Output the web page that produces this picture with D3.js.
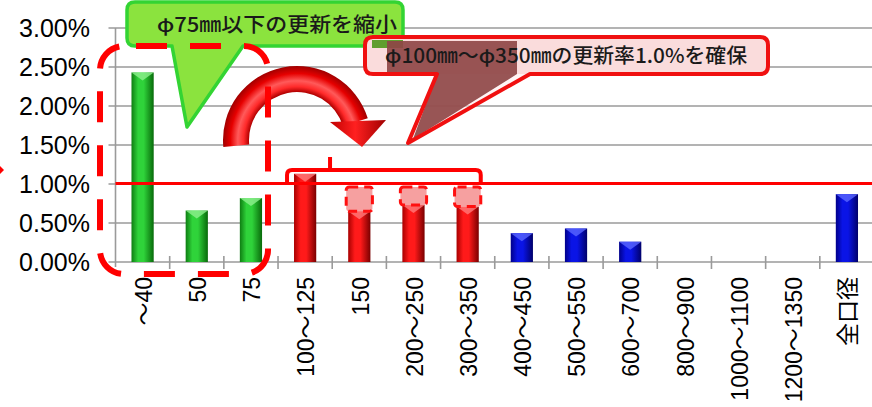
<!DOCTYPE html>
<html>
<head>
<meta charset="utf-8">
<script src="https://cdn.jsdelivr.net/npm/d3@7"></script>
<style>
  html, body { margin: 0; padding: 0; background: #fff; }
  svg { display: block; }
</style>
</head>
<body>
<svg id="chart" width="872" height="407"></svg>
<script>
// Renewal rate by pipe diameter (mm)
const categories = ["～40", "50", "75", "100～125", "150", "200～250", "300～350",
  "400～450", "500～550", "600～700", "800～900", "1000～1100", "1200～1350", "全口径"];
const renewalRates = [0.0243, 0.0066, 0.0082, 0.0113, 0.0065, 0.0073, 0.0071,
  0.0037, 0.0043, 0.0026, 0, 0, 0, 0.0087];
const sizeGroups = ["small", "small", "small", "mid", "mid", "mid", "mid",
  "large", "large", "large", "large", "large", "large", "large"];
const yTickValues = [0, 0.005, 0.01, 0.015, 0.02, 0.025, 0.03];
const targetRate = 0.01;
const raiseTo = ["150", "200～250", "300～350"];
const noteSmall = "φ75㎜以下の更新を縮小";
const noteMid = "φ100㎜～φ350㎜の更新率1.0%を確保";

const svg = d3.select("#chart");
const plotLeft = 115.5, plotRight = 874, plotTop = 28, plotBottom = 262;

const x = d3.scaleBand().domain(categories).range([plotLeft, plotRight]);
const y = d3.scaleLinear().domain([0, 0.03]).range([plotBottom, plotTop]);
const fmt = d3.format(".2%");
const barW = x.bandwidth() * 0.41;
const barX = c => x(c) + (x.bandwidth() - barW) / 2;

const palette = {
  small: { dark: "#0e7d12", mid: "#2fd33a", light: "#8ef08e", edge: "#086a0a" },
  mid:   { dark: "#a80000", mid: "#ff1a1a", light: "#ff7a7a", edge: "#7a0000" },
  large: { dark: "#00008a", mid: "#0a14e6", light: "#5a66ff", edge: "#00006a" }
};

const defs = svg.append("defs");
Object.entries(palette).forEach(([k, c]) => {
  const g = defs.append("linearGradient").attr("id", "bar-" + k)
    .attr("x1", 0).attr("x2", 1).attr("y1", 0).attr("y2", 0);
  g.append("stop").attr("offset", 0).attr("stop-color", c.dark);
  g.append("stop").attr("offset", 0.3).attr("stop-color", c.mid);
  g.append("stop").attr("offset", 0.55).attr("stop-color", c.mid);
  g.append("stop").attr("offset", 1).attr("stop-color", c.edge);
});

// Gridlines
svg.append("g").selectAll("line").data(yTickValues).join("line")
  .attr("x1", plotLeft - 7).attr("x2", 872)
  .attr("y1", d => y(d)).attr("y2", d => y(d))
  .attr("stroke", "#9a9a9a").attr("stroke-width", 1.6);

// Y axis line
svg.append("line").attr("x1", plotLeft).attr("x2", plotLeft)
  .attr("y1", y(0.03)).attr("y2", plotBottom + 5)
  .attr("stroke", "#9a9a9a").attr("stroke-width", 1.6);

// X tick marks at category boundaries
const bounds = categories.map(c => x(c)).concat([x(categories[categories.length - 1]) + x.bandwidth()]);
svg.append("g").selectAll("line").data(bounds.slice(1)).join("line")
  .attr("x1", d => d).attr("x2", d => d)
  .attr("y1", plotBottom - 6).attr("y2", plotBottom + 7)
  .attr("stroke", "#9a9a9a").attr("stroke-width", 1.6);

// Y labels
svg.append("g").selectAll("text").data(yTickValues).join("text")
  .attr("x", 90).attr("y", d => y(d)).attr("dy", "0.36em")
  .attr("text-anchor", "end")
  .attr("font-family", "Liberation Sans, Arial, sans-serif")
  .attr("font-size", 25).attr("fill", "#000")
  .text(d => fmt(d));

// X labels (rotated)
svg.append("g").selectAll("text").data(categories).join("text")
  .attr("transform", c => `translate(${x(c) + x.bandwidth() / 2 + 1},277) rotate(-90)`)
  .attr("dy", "0.36em")
  .attr("text-anchor", "end")
  .attr("font-family", "Liberation Sans, Arial, 'Noto Sans CJK JP', sans-serif")
  .attr("font-size", 23).attr("fill", "#000")
  .text(c => c);

// Bars
const bars = categories.map((c, i) => ({ c, v: renewalRates[i], g: sizeGroups[i] }))
  .filter(d => d.v > 0);
const bg = svg.append("g");
bg.selectAll("rect").data(bars).join("rect")
  .attr("x", d => barX(d.c)).attr("width", barW)
  .attr("y", d => y(d.v)).attr("height", d => y(0) - y(d.v))
  .attr("fill", d => `url(#bar-${d.g})`);
bg.selectAll("path").data(bars).join("path")
  .attr("d", d => {
    const x0 = barX(d.c), x1 = x0 + barW, t = y(d.v);
    return `M${x0},${t}L${x1},${t}L${x0 + barW / 2},${t + 8}Z`;
  })
  .attr("fill", d => palette[d.g].light).attr("opacity", 0.8);

// Target line at 1.0%
svg.append("line").attr("x1", plotLeft).attr("x2", 872)
  .attr("y1", y(targetRate) - 0.5).attr("y2", y(targetRate) - 0.5)
  .attr("stroke", "#ff0000").attr("stroke-width", 3);

// Highlighted gap between bar top and the target
svg.append("g").selectAll("rect").data(bars.filter(d => raiseTo.includes(d.c))).join("rect")
  .attr("x", d => barX(d.c) - 2).attr("width", barW + 4)
  .attr("y", y(targetRate) + 3).attr("height", d => y(d.v) - y(targetRate) - 3)
  .attr("rx", 3)
  .attr("fill", "#f6a0a0")
  .attr("stroke", "#ff1010").attr("stroke-width", 3)
  .attr("stroke-dasharray", "9,6");

// Bracket over the 100～350 group
{
  const bx0 = x("100～125") + 9, bx1 = x("300～350") + x.bandwidth() - 14, by = 170;
  svg.append("path")
    .attr("d", `M${bx0},${by + 13}V${by + 5}Q${bx0},${by} ${bx0 + 5},${by}H${bx1 - 5}Q${bx1},${by} ${bx1},${by + 5}V${by + 13}`)
    .attr("fill", "none").attr("stroke", "#ff0000").attr("stroke-width", 4);
  svg.append("line").attr("x1", bx0 + 43).attr("x2", bx0 + 43).attr("y1", by - 13).attr("y2", by)
    .attr("stroke", "#ff0000").attr("stroke-width", 4);
}

// Green callout
svg.append("path")
  .attr("d", "M135,2H395Q403,2 403,10V38Q403,46 395,46H243L187,127L172,46H135Q127,46 127,38V10Q127,2 135,2Z")
  .attr("fill", "#8be33e").attr("stroke", "#33d433").attr("stroke-width", 3.5)
  .attr("stroke-linejoin", "round");
svg.append("text")
  .attr("x", 157).attr("y", 32)
  .attr("textLength", 240).attr("lengthAdjust", "spacingAndGlyphs")
  .attr("font-family", "'Noto Sans CJK JP', sans-serif")
  .attr("font-size", 20).attr("font-weight", 500).attr("fill", "#1a1a1a")
  .text(noteSmall);

// Curved 3D arrow
{
  const cx = 297, cy = 140, rIn = 48, rOut = 74;
  const rg = defs.append("radialGradient").attr("id", "tube")
    .attr("gradientUnits", "userSpaceOnUse")
    .attr("cx", cx).attr("cy", cy).attr("r", rOut);
  rg.append("stop").attr("offset", rIn / rOut).attr("stop-color", "#b00000");
  rg.append("stop").attr("offset", 0.72).attr("stop-color", "#ff2a2a");
  rg.append("stop").attr("offset", 0.8).attr("stop-color", "#ff5a5a");
  rg.append("stop").attr("offset", 0.9).attr("stop-color", "#e60000");
  rg.append("stop").attr("offset", 1).attr("stop-color", "#a00000");
  const rad = a => a * Math.PI / 180;
  const pt = (r, a) => [cx + r * Math.cos(rad(a)), cy - r * Math.sin(rad(a))];
  const a0 = 185.5, a1 = 17;
  const [o0x, o0y] = pt(rOut, a0), [o1x, o1y] = pt(rOut, a1);
  const [i1x, i1y] = pt(rIn, a1), [i0x, i0y] = pt(rIn, a0);
  svg.append("path")
    .attr("d", `M${o0x},${o0y}A${rOut},${rOut} 0 0 1 ${o1x},${o1y}L${i1x},${i1y}A${rIn},${rIn} 0 0 0 ${i0x},${i0y}Z`)
    .attr("fill", "url(#tube)");
  const hg = defs.append("linearGradient").attr("id", "head")
    .attr("x1", 0).attr("x2", 1).attr("y1", 0).attr("y2", 0);
  hg.append("stop").attr("offset", 0).attr("stop-color", "#c00000");
  hg.append("stop").attr("offset", 0.45).attr("stop-color", "#ff2020");
  hg.append("stop").attr("offset", 1).attr("stop-color", "#a00000");
  svg.append("path")
    .attr("d", "M330,122L386,120L362,147Z")
    .attr("fill", "url(#head)");
}

// Dashed outline around the small-diameter group
svg.append("rect")
  .attr("x", 100).attr("y", 46).attr("width", 168).attr("height", 228)
  .attr("rx", 24).attr("ry", 24)
  .attr("fill", "none").attr("stroke", "#ff0000").attr("stroke-width", 6)
  .attr("stroke-dasharray", "31,23").attr("stroke-dashoffset", 42);

// Red callout
{
  svg.append("path")
    .attr("d", "M530,74L408,143L437,74Z")
    .attr("fill", "rgba(255,235,235,0.55)");
  svg.append("rect").attr("x", 365).attr("y", 37).attr("width", 403).attr("height", 37)
    .attr("rx", 8).attr("fill", "#fadcdc");
  svg.append("rect").attr("x", 372).attr("y", 40).attr("width", 31).attr("height", 8)
    .attr("fill", "#5f9e2e");
  svg.append("path")
    .attr("d", "M387,41H517V74L413,139L437,74H387Z")
    .attr("fill", "#8f4646").attr("opacity", 0.92);
  svg.append("path")
    .attr("d", "M373,37H760Q768,37 768,45V66Q768,74 760,74H530L408,143L437,74H373Q365,74 365,66V45Q365,37 373,37Z")
    .attr("fill", "none").attr("stroke", "#f01010").attr("stroke-width", 4)
    .attr("stroke-linejoin", "round");
  svg.append("text")
    .attr("x", 385).attr("y", 63)
    .attr("textLength", 362).attr("lengthAdjust", "spacingAndGlyphs")
    .attr("font-family", "'Noto Sans CJK JP', sans-serif")
    .attr("font-size", 20).attr("font-weight", 500).attr("fill", "#1a1a1a")
    .text(noteMid);
}

// Edge marker on the left
svg.append("path").attr("d", "M0,166L4,170L0,174Z").attr("fill", "#ff0000");
</script>
</body>
</html>
